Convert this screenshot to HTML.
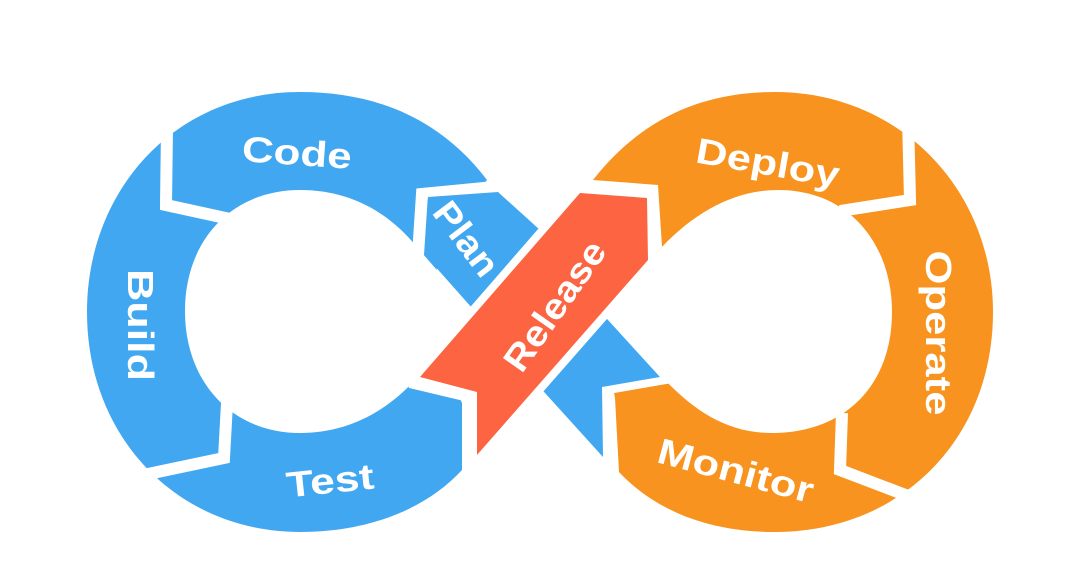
<!DOCTYPE html>
<html><head><meta charset="utf-8"><style>
html,body{margin:0;padding:0;background:#fff;width:1080px;height:587px;overflow:hidden}
svg{display:block}
text{font-family:"Liberation Sans","DejaVu Sans",sans-serif;font-weight:bold;fill:#fff;font-size:36px}
</style></head><body>
<svg width="1080" height="587" viewBox="0 0 1080 587" xmlns="http://www.w3.org/2000/svg">
<rect width="1080" height="587" fill="#fff"/>
<path d="M487,180 C440,118 375,92 300,92 C175,92 87,190 87,312 C87,440 180,532 300,532 C375,532 430,505 462,470 L462,403 L430,330 L440,240 Z" fill="#42a7f1"/>
<path d="M593,180 C640,120 700,92 775,92 C900,92 993,190 993,312 C993,440 900,532 775,532 C700,532 650,505 619,472 L615,398 L600,318 L662,247 L658,185 Z" fill="#f7931e"/>
<path d="M300,190 C350,190 388,212 416,246 L470,308 L415,380 C382,416 342,433 300,433 C232,433 185,382 185,311 C185,240 232,190 300,190 Z" fill="#fff"/>
<path d="M778,190 C850,190 892,245 892,312 C892,385 845,433 772,433 C728,433 695,412 662,377 L600,318 L662,247 C695,212 735,190 778,190 Z" fill="#fff"/>
<g fill="none" stroke="#fff" stroke-width="12" stroke-linejoin="miter">
<polyline points="167,128 166,205 230,219"/>
<polyline points="505,186 422,194 418,255"/>
<polyline points="228,385 224,458 148,474"/>
<polyline points="410,382 469,396 469,480"/>
<polyline points="908,118 910,200 840,211"/>
<polyline points="842,413 840,470 908,496"/>
</g>
<polygon points="428,197 498,192 540,230 472,308 425,255" fill="#42a7f1"/>
<polygon points="520,365 580,290 608,320 660,377 602,387 603,457 545,393" fill="#42a7f1" stroke="#fff" stroke-width="16" stroke-linejoin="miter" paint-order="stroke"/>
<polygon points="580,193 647,198 648,260 477,455 477,392 420,377" fill="#fc6442" stroke="#fff" stroke-width="16" stroke-linejoin="miter" paint-order="stroke"/>
<text x="297" y="165" text-anchor="middle" transform="rotate(4 297 152)" textLength="110" lengthAdjust="spacingAndGlyphs">Code</text>
<text x="140" y="337" text-anchor="middle" transform="rotate(90 140 325)" textLength="112" lengthAdjust="spacingAndGlyphs">Build</text>
<text x="330" y="493" text-anchor="middle" transform="rotate(-6 330 480)" textLength="88" lengthAdjust="spacingAndGlyphs">Test</text>
<text x="466" y="251" text-anchor="middle" transform="rotate(53 466 239)" textLength="84" lengthAdjust="spacingAndGlyphs" font-size="32">Plan</text>
<text x="555" y="318" text-anchor="middle" transform="rotate(-55 555 306)" textLength="150" lengthAdjust="spacingAndGlyphs" font-size="34">Release</text>
<text x="768" y="175" text-anchor="middle" transform="rotate(10 768 162)" textLength="145" lengthAdjust="spacingAndGlyphs">Deploy</text>
<text x="938" y="345" text-anchor="middle" transform="rotate(90 938 333)" textLength="165" lengthAdjust="spacingAndGlyphs">Operate</text>
<text x="736" y="483" text-anchor="middle" transform="rotate(15 736 470)" textLength="160" lengthAdjust="spacingAndGlyphs">Monitor</text>
</svg>
</body></html>
